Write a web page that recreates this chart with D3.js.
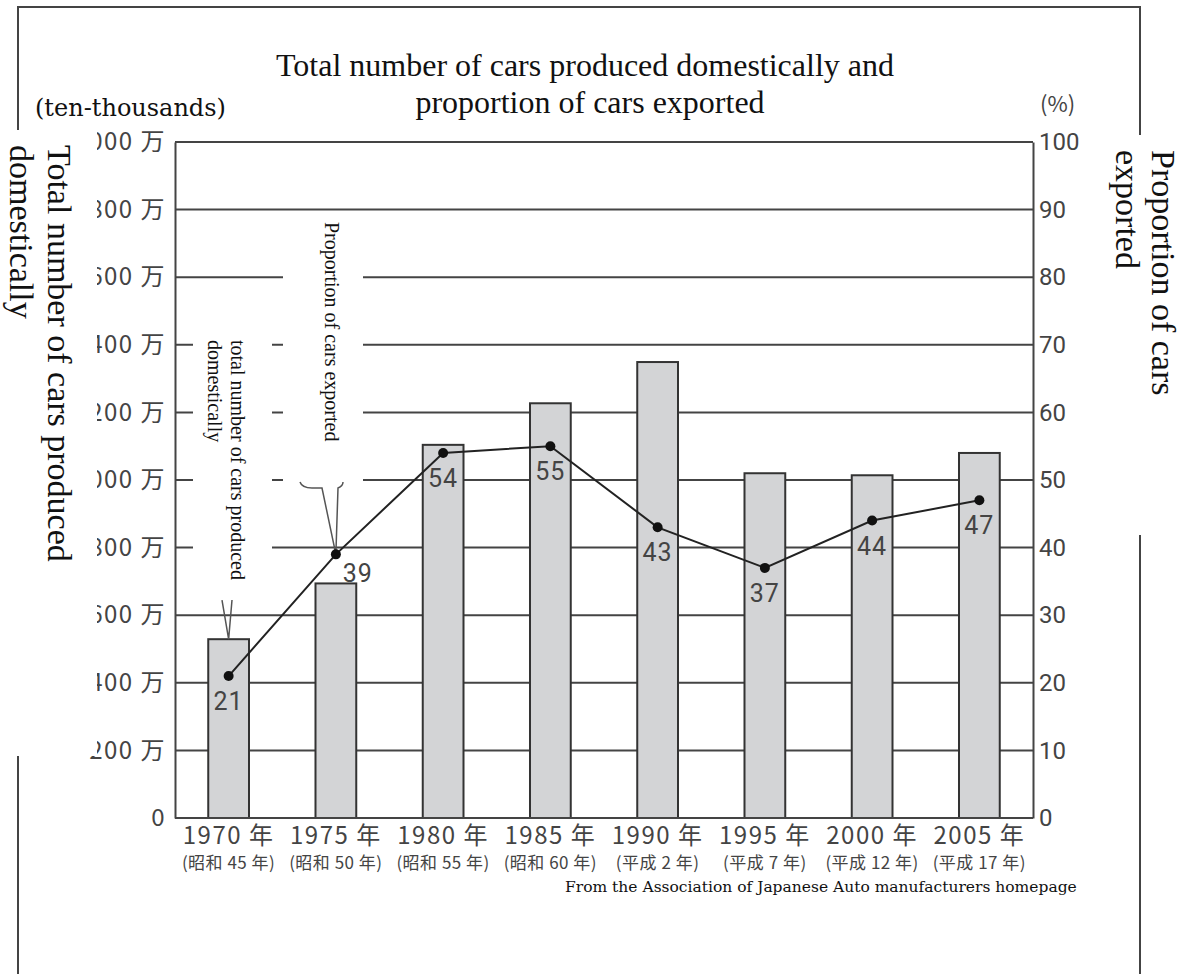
<!DOCTYPE html>
<html>
<head>
<meta charset="utf-8">
<script src="https://cdn.jsdelivr.net/npm/d3@7"></script>
<style>
  html,body{margin:0;padding:0;background:#fff;}
  svg{display:block;}
  .serif{font-family:"Liberation Serif","DejaVu Serif",serif;fill:#111;}
  .wserif{font-family:"DejaVu Serif",serif;fill:#111;}
  .num{font-family:Roboto,"DejaVu Sans",sans-serif;font-weight:400;fill:#444;}
  .jp{font-family:"Noto Sans CJK JP",sans-serif;fill:#444;}
</style>
</head>
<body>
<svg id="chart" width="1182" height="974"></svg>
<script>
/* ===== Data ===== */
const years = ['1970','1975','1980','1985','1990','1995','2000','2005'];
const eras = ['(昭和 45 年)','(昭和 50 年)','(昭和 55 年)','(昭和 60 年)','(平成 2 年)','(平成 7 年)','(平成 12 年)','(平成 17 年)'];
const produced = [529, 694, 1104, 1227, 1349, 1020, 1014, 1080];   // ten-thousands
const exportPct = [21, 39, 54, 55, 43, 37, 44, 47];               // %
const leftTicks = [0,200,400,600,800,1000,1200,1400,1600,1800,2000];
const rightTicks = [0,10,20,30,40,50,60,70,80,90,100];

/* ===== Setup ===== */
const svg = d3.select('#chart');
const m = {l:175, r:1033, t:142, b:818};
const x = d3.scaleBand().domain(years).range([m.l,m.r]).paddingInner(0.62).paddingOuter(0.31);
const yL = d3.scaleLinear().domain([0,2000]).range([m.b,m.t]);
const yR = d3.scaleLinear().domain([0,100]).range([m.b,m.t]);
const cx = (i) => x(years[i]) + x.bandwidth()/2;

// outer frame
svg.append('rect').attr('x',18).attr('y',7).attr('width',1122).attr('height',980)
  .attr('fill','none').attr('stroke','#444').attr('stroke-width',2);

// grid lines
svg.append('g').selectAll('line').data(rightTicks.slice(1)).enter().append('line')
  .attr('x1',m.l).attr('x2',m.r).attr('y1',d=>yR(d)).attr('y2',d=>yR(d))
  .attr('stroke','#444').attr('stroke-width',2);

// white boxes behind the callout labels
svg.append('rect').attr('x',283).attr('y',214).attr('width',80).attr('height',268).attr('fill','#fff');
svg.append('rect').attr('x',193).attr('y',338).attr('width',79).attr('height',262).attr('fill','#fff');

// bars
svg.append('g').selectAll('rect').data(produced).enter().append('rect')
  .attr('x',(d,i)=>x(years[i])).attr('y',d=>yL(d))
  .attr('width',x.bandwidth()).attr('height',d=>m.b-yL(d))
  .attr('fill','#d3d4d6').attr('stroke','#333').attr('stroke-width',2);

// axes
const axL = svg.append('g').attr('transform',`translate(${m.l},0)`)
  .call(d3.axisLeft(yL).tickValues(leftTicks).tickSize(0).tickPadding(9)
    .tickFormat(d=> d===0 ? '0' : d+' 万'));
const axR = svg.append('g').attr('transform',`translate(${m.r},0)`)
  .call(d3.axisRight(yR).tickValues(rightTicks).tickSize(0).tickPadding(6));
[axL,axR].forEach(a=>{
  a.select('.domain').attr('stroke','#444').attr('stroke-width',2);
  a.selectAll('text').attr('class','num').style('font-size','24px').attr('fill','#444');
});
axL.selectAll('text').attr('class','jp').style('font-size','24px').style('letter-spacing','1.5px');
svg.append('line').attr('x1',m.l).attr('x2',m.r).attr('y1',m.b).attr('y2',m.b).attr('stroke','#444').attr('stroke-width',2);
svg.append('line').attr('x1',m.l).attr('x2',m.r).attr('y1',m.t).attr('y2',m.t).attr('stroke','#444').attr('stroke-width',2);

// x labels
const xl = svg.append('g');
xl.selectAll('.yr').data(years).enter().append('text').attr('class','jp')
  .attr('x',(d,i)=>cx(i)).attr('y',844).attr('text-anchor','middle').style('font-size','24px')
  .style('letter-spacing','1.5px').text(d=>d+' 年');
xl.selectAll('.era').data(eras).enter().append('text').attr('class','jp')
  .attr('x',(d,i)=>cx(i)).attr('y',869).attr('text-anchor','middle').style('font-size','17px')
  .style('letter-spacing','0.5px').text(d=>d);

// callout leaders
svg.append('path').attr('d',`M222,600 L${cx(0)},${yL(produced[0])} L232,600`)
  .attr('fill','none').attr('stroke','#555').attr('stroke-width',1.5);
svg.append('path').attr('d',`M300,482 Q302,488 312,488 L322,488 L${cx(1)},${yR(exportPct[1])} L338,488 Q343,486 343,482`)
  .attr('fill','none').attr('stroke','#555').attr('stroke-width',1.5);

// line + points
const line = d3.line().x((d,i)=>cx(i)).y(d=>yR(d));
svg.append('path').attr('d',line(exportPct)).attr('fill','none').attr('stroke','#222').attr('stroke-width',2);
svg.append('g').selectAll('circle').data(exportPct).enter().append('circle')
  .attr('cx',(d,i)=>cx(i)).attr('cy',d=>yR(d)).attr('r',5).attr('fill','#111');
svg.append('g').selectAll('text').data(exportPct).enter().append('text').attr('class','num')
  .attr('x',(d,i)=> i===1 ? cx(i)+22 : cx(i))
  .attr('y',(d,i)=>yR(d)+(i===1?28:34)).attr('text-anchor','middle').style('font-size','25px')
  .style('letter-spacing','1px').text(d=>d);

// white panels for axis titles (clip left tick labels / frame)
svg.append('rect').attr('x',0).attr('y',130).attr('width',97).attr('height',626).attr('fill','#fff');
svg.append('rect').attr('x',1086).attr('y',135).attr('width',96).attr('height',400).attr('fill','#fff');

// titles
svg.append('text').attr('class','serif').attr('x',585).attr('y',76).attr('text-anchor','middle')
  .style('font-size','32px').text('Total number of cars produced domestically and');
svg.append('text').attr('class','serif').attr('x',590).attr('y',113).attr('text-anchor','middle')
  .style('font-size','32px').text('proportion of cars exported');
svg.append('text').attr('class','wserif').attr('x',35).attr('y',116).style('font-size','24px').text('(ten-thousands)');
svg.append('text').attr('class','jp').attr('x',1040).attr('y',112).style('font-size','22px').text('(%)');

function vtext(cls, xp, yp, size, lines, gap){
  const t = svg.append('text').attr('class',cls).attr('transform',`translate(${xp},${yp}) rotate(90)`)
    .style('font-size',size+'px');
  lines.forEach((s,i)=> t.append('tspan').attr('x',0).attr('y',i*gap).text(s));
}
vtext('serif',48,145,34,['Total number of cars produced','domestically'],38);
vtext('serif',1152,150,34,['Proportion of cars','exported'],36);
vtext('serif',325,222,20,['Proportion of cars exported'],22);
vtext('serif',231,340,20,['total number of cars produced','domestically'],23);

svg.append('text').attr('class','wserif').attr('x',565).attr('y',892).style('font-size','15.5px')
  .text('From the Association of Japanese Auto manufacturers homepage');
</script>
</body>
</html>
